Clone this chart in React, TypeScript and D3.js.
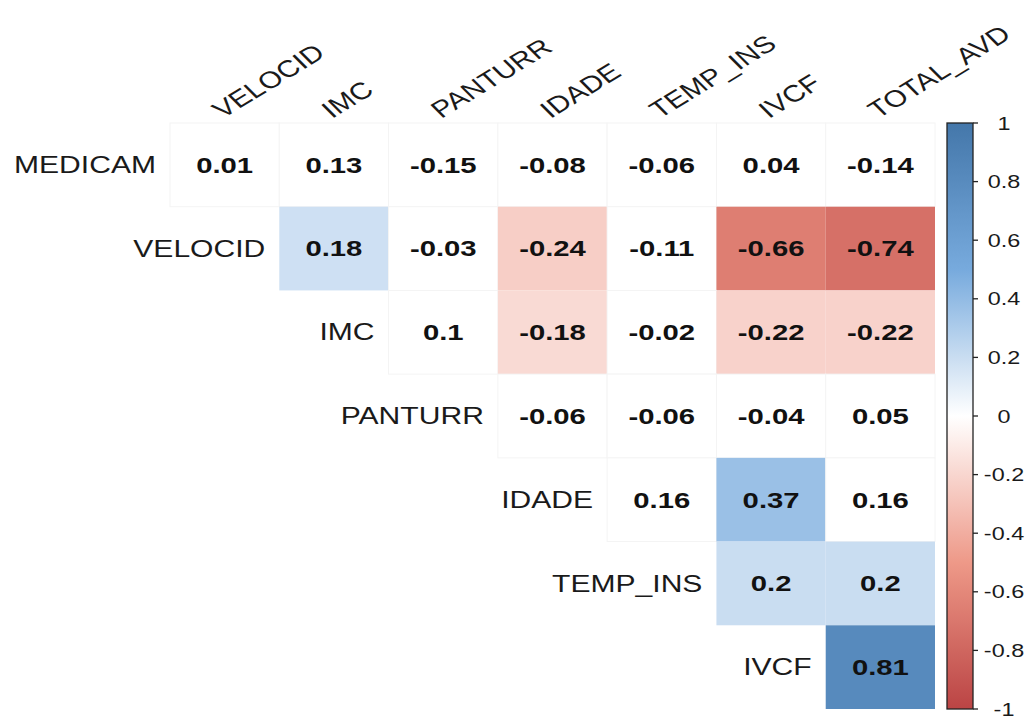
import React from "react";
import * as d3 from "d3";

const rowNames = ["MEDICAM", "VELOCID", "IMC", "PANTURR", "IDADE", "TEMP_INS", "IVCF"];
const colNames = ["VELOCID", "IMC", "PANTURR", "IDADE", "TEMP_INS", "IVCF", "TOTAL_AVD"];

// upper triangle values, row i holds columns i..6
const rowMEDICAM = [0.01, 0.13, -0.15, -0.08, -0.06, 0.04, -0.14];
const rowVELOCID = [0.18, -0.03, -0.24, -0.11, -0.66, -0.74];
const rowIMC = [0.1, -0.18, -0.02, -0.22, -0.22];
const rowPANTURR = [-0.06, -0.06, -0.04, 0.05];
const rowIDADE = [0.16, 0.37, 0.16];
const rowTEMP_INS = [0.2, 0.2];
const rowIVCF = [0.81];

// significance flags (1 = coloured, 0 = blank)
const sigMEDICAM = [0, 0, 0, 0, 0, 0, 0];
const sigVELOCID = [1, 0, 1, 0, 1, 1];
const sigIMC = [0, 1, 0, 1, 1];
const sigPANTURR = [0, 0, 0, 0];
const sigIDADE = [0, 1, 0];
const sigTEMP_INS = [1, 1];
const sigIVCF = [1];

const legendTicks = [1, 0.8, 0.6, 0.4, 0.2, 0, -0.2, -0.4, -0.6, -0.8, -1];

const paletteDomain = [-1, -0.5, 0, 0.5, 1];
const paletteColors = ["#BB4444", "#EE9988", "#FFFFFF", "#77AADD", "#4477AA"];

const allRows = [rowMEDICAM, rowVELOCID, rowIMC, rowPANTURR, rowIDADE, rowTEMP_INS, rowIVCF];
const allSig = [sigMEDICAM, sigVELOCID, sigIMC, sigPANTURR, sigIDADE, sigTEMP_INS, sigIVCF];

const W = 1031;
const H = 718;
const FONT = "'Liberation Sans', Arial, sans-serif";

export default function App() {
  const x = d3.scaleBand<string>().domain(colNames).range([170, 935]).padding(0);
  const y = d3.scaleBand<string>().domain(rowNames).range([123, 709]).padding(0);
  const color = d3.scaleLinear<string>().domain(paletteDomain).range(paletteColors).interpolate(d3.interpolateRgb);
  const leg = d3.scaleLinear().domain([-1, 1]).range([709, 123]);

  const cells: { r: number; c: number; v: number; s: number }[] = [];
  allRows.forEach((vals, r) => {
    vals.forEach((v, k) => {
      cells.push({ r, c: r + k, v, s: allSig[r][k] });
    });
  });

  const bw = x.bandwidth();
  const bh = y.bandwidth();
  const legX0 = 947;
  const legX1 = 973;

  const gradStops = d3.range(0, 21).map((i) => {
    const v = -1 + i * 0.1;
    return { off: (i / 20) * 100, col: color(v) };
  });

  return (
    <svg width={W} height={H} style={{ position: "absolute", left: 0, top: 0, background: "#fff" }}>
      <defs>
        <linearGradient id="legGrad" x1="0" y1="1" x2="0" y2="0">
          {gradStops.map((s, i) => (
            <stop key={i} offset={`${s.off}%`} stopColor={s.col} />
          ))}
        </linearGradient>
      </defs>
      <rect x={0} y={0} width={W} height={H} fill="#fff" />
      {/* cells */}
      {cells.map((d, i) => (
        <rect
          key={"c" + i}
          x={x(colNames[d.c])!}
          y={y(rowNames[d.r])!}
          width={bw}
          height={bh}
          fill={d.s ? color(d.v) : "#ffffff"}
          stroke={d.s ? "none" : "#f4f4f4"}
          strokeWidth={1}
        />
      ))}
      {/* values */}
      {cells.map((d, i) => {
        const cx = x(colNames[d.c])! + bw / 2;
        const cy = y(rowNames[d.r])! + bh / 2;
        return (
          <text
            key={"t" + i}
            transform={`translate(${cx},${cy + 7.8}) scale(1.36,1)`}
            textAnchor="middle"
            fontFamily={FONT}
            fontWeight="bold"
            fontSize={21.5}
            fill="#111"
          >
            {String(d.v)}
          </text>
        );
      })}
      {/* row labels */}
      {rowNames.map((n, i) => {
        const xe = x(colNames[i])! - 14;
        const cy = y(n)! + bh / 2;
        return (
          <text
            key={"r" + i}
            transform={`translate(${xe},${cy + 8.2}) scale(1.28,1)`}
            textAnchor="end"
            fontFamily={FONT}
            fontSize={23.5}
            fill="#1a1a1a"
          >
            {n}
          </text>
        );
      })}
      {/* column labels */}
      {colNames.map((n, i) => {
        const cx = x(n)! + bw / 2;
        return (
          <text
            key={"cl" + i}
            transform={`translate(${cx - 2},${119}) scale(1.28,1) rotate(-38)`}
            textAnchor="start"
            fontFamily={FONT}
            fontSize={23.5}
            fill="#1a1a1a"
          >
            {n}
          </text>
        );
      })}
      {/* colour legend */}
      <rect x={legX0} y={123} width={legX1 - legX0} height={709 - 123} fill="url(#legGrad)" stroke="#222" strokeWidth={1.3} />
      {legendTicks.map((t, i) => (
        <g key={"lt" + i}>
          <line x1={legX1} x2={legX1 + 5} y1={leg(t)} y2={leg(t)} stroke="#222" strokeWidth={1.3} />
          <text
            transform={`translate(${1004},${leg(t) + 6.5}) scale(1.3,1)`}
            textAnchor="middle"
            fontFamily={FONT}
            fontSize={18}
            fill="#1a1a1a"
          >
            {String(Math.round(t * 10) / 10)}
          </text>
        </g>
      ))}
    </svg>
  );
}
